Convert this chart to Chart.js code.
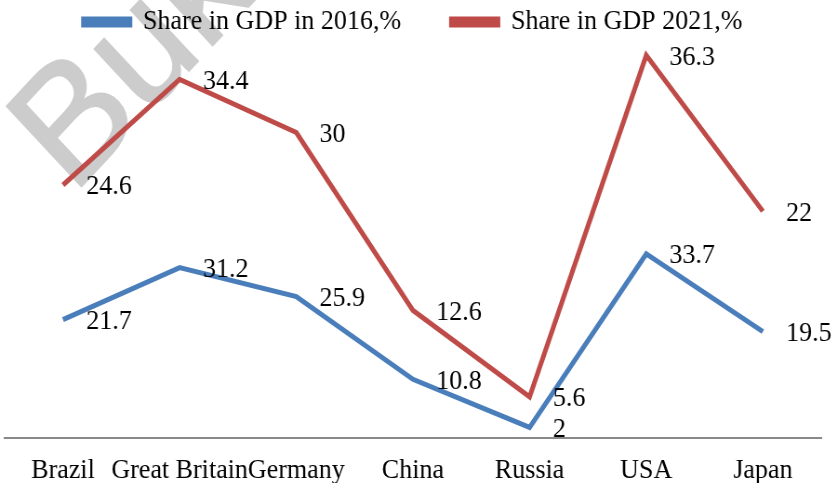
<!DOCTYPE html>
<html>
<head>
<meta charset="utf-8">
<script src="https://cdn.jsdelivr.net/npm/chart.js@4"></script>
<style>
  html, body { margin: 0; background: #fff; overflow: hidden; }
  #wrap { width: 835px; height: 483px; overflow: hidden; }
  /* the source picture is slightly squeezed sideways */
  #myChart { transform: scaleX(0.93); transform-origin: 0 0; }
</style>
</head>
<body>
<div id="wrap"><canvas id="myChart" width="898" height="483"></canvas></div>
<script>
// countries on the x axis
const countries = ['Brazil', 'Great Britain', 'Germany', 'China', 'Russia', 'USA', 'Japan'];
// values as printed next to the points (chart is stacked)
const share2016 = [21.7, 31.2, 25.9, 10.8, 2, 33.7, 19.5];
const share2021 = [24.6, 34.4, 30, 12.6, 5.6, 36.3, 22];
const seriesNames = ['Share in GDP in 2016,%', 'Share in GDP 2021,%'];

const serif = "'Liberation Serif', 'Times New Roman', serif";

// grey watermark behind everything
const watermark = {
    id: 'watermark',
    beforeDraw(chart) {
        const c = chart.ctx;
        c.save();
        c.translate(78, 196);
        c.rotate(-Math.PI / 4);
        c.font = "165px 'Liberation Sans', Arial, sans-serif";
        c.fillStyle = 'rgb(204,204,204)';
        c.strokeStyle = 'rgb(204,204,204)';
        c.lineWidth = 2;
        c.textBaseline = 'alphabetic';
        c.fillText('Buk', 0, 0);
        c.strokeText('Buk', 0, 0);
        c.restore();
    }
};

// value labels right of each point
const pointLabels = {
    id: 'pointLabels',
    afterDatasetsDraw(chart) {
        const c = chart.ctx;
        c.save();
        c.font = '28px ' + serif;
        c.fillStyle = '#000';
        c.textAlign = 'left';
        c.textBaseline = 'middle';
        chart.data.datasets.forEach((ds, i) => {
            const meta = chart.getDatasetMeta(i);
            meta.data.forEach((pt, j) => {
                c.fillText(String(ds.data[j]), pt.x + 25, pt.y + 2);
            });
        });
        c.restore();
    }
};

const ctx = document.getElementById('myChart').getContext('2d');

const config = {
    type: 'line',
    data: {
        labels: countries,
        datasets: [
            {
                label: seriesNames[0],
                data: share2016,
                borderColor: '#4A7EBB',
                backgroundColor: '#4A7EBB',
                borderWidth: 5,
                pointRadius: 0,
                fill: false,
                tension: 0,
                clip: false
            },
            {
                label: seriesNames[1],
                data: share2021,
                borderColor: '#BE4B48',
                backgroundColor: '#BE4B48',
                borderWidth: 5,
                pointRadius: 0,
                fill: false,
                tension: 0,
                clip: false
            }
        ]
    },
    options: {
        responsive: false,
        maintainAspectRatio: false,
        devicePixelRatio: 1,
        animation: false,
        layout: { padding: { left: 5, right: 15, top: -4, bottom: -19 } },
        plugins: {
            tooltip: { enabled: false },
            legend: {
                position: 'top',
                labels: {
                    font: { family: serif, size: 28 },
                    color: '#000',
                    boxWidth: 50,
                    boxHeight: 6,
                    padding: 12,
                    generateLabels(chart) {
                        const items = Chart.defaults.plugins.legend.labels.generateLabels(chart);
                        // wider gap between the two entries
                        items[0].text += '      ';
                        return items;
                    }
                }
            }
        },
        scales: {
            x: {
                offset: true,
                grid: { display: false, drawTicks: false },
                border: { display: true, color: '#898989', width: 2 },
                ticks: {
                    font: { family: serif, size: 28 },
                    color: '#000',
                    autoSkip: false,
                    maxRotation: 0,
                    padding: 15
                }
            },
            y: {
                display: false,
                stacked: true,
                min: 0,
                max: 71.7
            }
        }
    },
    plugins: [watermark, pointLabels]
};

const myChart = new Chart(ctx, config);
</script>
</body>
</html>
